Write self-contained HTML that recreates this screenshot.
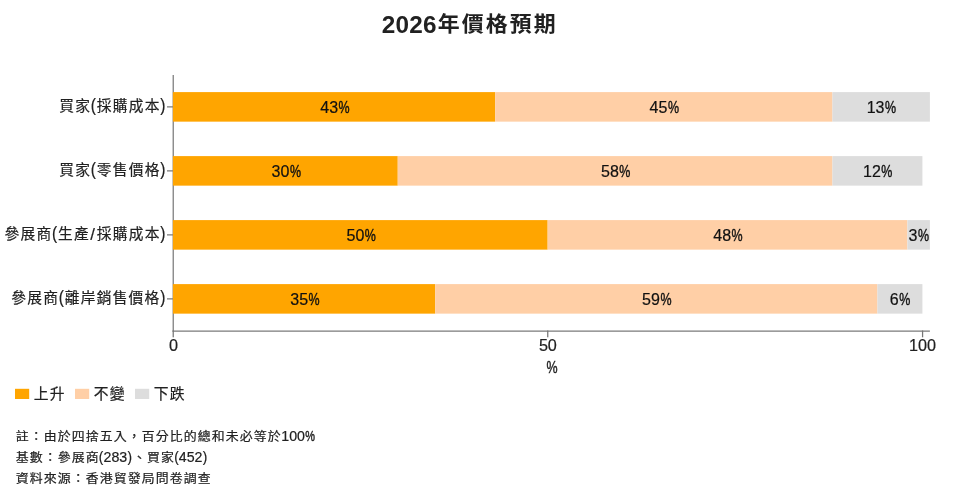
<!DOCTYPE html>
<html lang="zh-Hant">
<head>
<meta charset="utf-8">
<title>2026年價格預期</title>
<style>
html,body{margin:0;padding:0;background:#fff;}
body{width:966px;height:493px;overflow:hidden;}
svg{display:block;}
text{font-family:"Liberation Sans", "Noto Sans CJK TC", sans-serif;fill:#212121;stroke:#212121;stroke-width:0.2px;stroke-linejoin:round;}
.t{font-weight:bold;}
.bl{fill:#111;stroke:#111;}
.t{stroke-width:0;}
</style>
</head>
<body>
<svg width="966" height="493" viewBox="0 0 966 493">
<rect x="0" y="0" width="966" height="493" fill="#ffffff"/>
<text class="t"><tspan x="381.70" y="32.70" style="font-size:24.30px;letter-spacing:0.26px">2026</tspan><tspan x="437.68" y="30.85" style="font-size:20.90px;letter-spacing:1.96px" textLength="120.00" lengthAdjust="spacingAndGlyphs">年價格預期</tspan></text>
<rect x="172.6" y="75" width="1.25" height="256.7" fill="#7b7b7b"/>
<rect x="172.6" y="330.5" width="757.3" height="1.25" fill="#7b7b7b"/>
<rect x="172.60" y="330.5" width="1.25" height="6.8" fill="#777"/>
<text class="xl"><tspan x="169.00" y="350.80" style="font-size:16.20px;letter-spacing:-0.02px">0</tspan></text>
<rect x="547.12" y="330.5" width="1.25" height="6.8" fill="#777"/>
<text class="xl"><tspan x="538.90" y="350.80" style="font-size:16.20px;letter-spacing:-0.02px">50</tspan></text>
<rect x="921.95" y="330.5" width="1.25" height="6.8" fill="#777"/>
<text class="xl"><tspan x="909.10" y="350.80" style="font-size:16.20px;letter-spacing:-0.02px">100</tspan></text>
<text class="xl"><tspan x="546.52" y="372.97" style="font-size:16.73px;stroke-width:0.45px" textLength="11.09" lengthAdjust="spacingAndGlyphs">%</tspan></text>
<rect x="167" y="106.25" width="6" height="1.25" fill="#7b7b7b"/>
<rect x="172.90" y="92.1" width="322.29" height="29.55" fill="#ffa500"/>
<rect x="495.19" y="92.1" width="337.28" height="29.55" fill="#ffcfa6"/>
<rect x="832.46" y="92.1" width="97.44" height="29.55" fill="#dddddd"/>
<text class="bl"><tspan x="320.23" y="112.55" style="font-size:16.00px;letter-spacing:0.09px">43</tspan><tspan x="338.54" y="112.62" style="font-size:16.73px;stroke-width:0.45px" textLength="11.09" lengthAdjust="spacingAndGlyphs">%</tspan></text>
<text class="bl"><tspan x="649.57" y="112.55" style="font-size:16.00px;letter-spacing:0.09px">45</tspan><tspan x="667.89" y="112.62" style="font-size:16.73px;stroke-width:0.45px" textLength="11.09" lengthAdjust="spacingAndGlyphs">%</tspan></text>
<text class="bl"><tspan x="866.64" y="112.55" style="font-size:16.00px;letter-spacing:0.09px">13</tspan><tspan x="884.96" y="112.62" style="font-size:16.73px;stroke-width:0.45px" textLength="11.09" lengthAdjust="spacingAndGlyphs">%</tspan></text>
<text class="yl"><tspan x="59.20" y="111.30" style="font-size:14.70px;letter-spacing:1.30px">買家</tspan><tspan x="90.63" y="111.40" style="font-size:17.72px" textLength="5.18" lengthAdjust="spacingAndGlyphs">(</tspan><tspan x="96.68" y="111.30" style="font-size:14.70px;letter-spacing:1.30px">採購成本</tspan><tspan x="160.24" y="111.40" style="font-size:17.72px" textLength="5.18" lengthAdjust="spacingAndGlyphs">)</tspan></text>
<rect x="167" y="170.25" width="6" height="1.25" fill="#7b7b7b"/>
<rect x="172.90" y="156.1" width="224.85" height="29.55" fill="#ffa500"/>
<rect x="397.75" y="156.1" width="434.71" height="29.55" fill="#ffcfa6"/>
<rect x="832.46" y="156.1" width="89.94" height="29.55" fill="#dddddd"/>
<text class="bl"><tspan x="271.57" y="176.55" style="font-size:16.00px;letter-spacing:0.09px">30</tspan><tspan x="289.89" y="176.62" style="font-size:16.73px;stroke-width:0.45px" textLength="11.09" lengthAdjust="spacingAndGlyphs">%</tspan></text>
<text class="bl"><tspan x="600.92" y="176.55" style="font-size:16.00px;letter-spacing:0.09px">58</tspan><tspan x="619.23" y="176.62" style="font-size:16.73px;stroke-width:0.45px" textLength="11.09" lengthAdjust="spacingAndGlyphs">%</tspan></text>
<text class="bl"><tspan x="862.90" y="176.55" style="font-size:16.00px;letter-spacing:0.09px">12</tspan><tspan x="881.21" y="176.62" style="font-size:16.73px;stroke-width:0.45px" textLength="11.09" lengthAdjust="spacingAndGlyphs">%</tspan></text>
<text class="yl"><tspan x="59.20" y="175.30" style="font-size:14.70px;letter-spacing:1.30px">買家</tspan><tspan x="90.63" y="175.40" style="font-size:17.72px" textLength="5.18" lengthAdjust="spacingAndGlyphs">(</tspan><tspan x="96.68" y="175.30" style="font-size:14.70px;letter-spacing:1.30px">零售價格</tspan><tspan x="160.24" y="175.40" style="font-size:17.72px" textLength="5.18" lengthAdjust="spacingAndGlyphs">)</tspan></text>
<rect x="167" y="234.25" width="6" height="1.25" fill="#7b7b7b"/>
<rect x="172.90" y="220.1" width="374.75" height="29.55" fill="#ffa500"/>
<rect x="547.65" y="220.1" width="359.76" height="29.55" fill="#ffcfa6"/>
<rect x="907.41" y="220.1" width="22.49" height="29.55" fill="#dddddd"/>
<text class="bl"><tspan x="346.42" y="240.55" style="font-size:16.00px;letter-spacing:0.09px">50</tspan><tspan x="364.74" y="240.62" style="font-size:16.73px;stroke-width:0.45px" textLength="11.09" lengthAdjust="spacingAndGlyphs">%</tspan></text>
<text class="bl"><tspan x="713.20" y="240.55" style="font-size:16.00px;letter-spacing:0.09px">48</tspan><tspan x="731.51" y="240.62" style="font-size:16.73px;stroke-width:0.45px" textLength="11.09" lengthAdjust="spacingAndGlyphs">%</tspan></text>
<text class="bl"><tspan x="908.56" y="240.55" style="font-size:16.00px;letter-spacing:0.09px">3</tspan><tspan x="917.89" y="240.62" style="font-size:16.73px;stroke-width:0.45px" textLength="11.09" lengthAdjust="spacingAndGlyphs">%</tspan></text>
<text class="yl"><tspan x="4.60" y="239.30" style="font-size:14.70px;letter-spacing:1.30px">參展商</tspan><tspan x="52.03" y="239.40" style="font-size:17.72px" textLength="5.18" lengthAdjust="spacingAndGlyphs">(</tspan><tspan x="58.08" y="239.30" style="font-size:14.70px;letter-spacing:1.30px">生產</tspan><tspan x="90.23" y="240.21" style="font-size:16.82px">/</tspan><tspan x="96.68" y="239.30" style="font-size:14.70px;letter-spacing:1.30px">採購成本</tspan><tspan x="160.24" y="239.40" style="font-size:17.72px" textLength="5.18" lengthAdjust="spacingAndGlyphs">)</tspan></text>
<rect x="167" y="298.25" width="6" height="1.25" fill="#7b7b7b"/>
<rect x="172.90" y="284.1" width="262.33" height="29.55" fill="#ffa500"/>
<rect x="435.23" y="284.1" width="442.21" height="29.55" fill="#ffcfa6"/>
<rect x="877.43" y="284.1" width="44.97" height="29.55" fill="#dddddd"/>
<text class="bl"><tspan x="290.29" y="304.55" style="font-size:16.00px;letter-spacing:0.09px">35</tspan><tspan x="308.60" y="304.62" style="font-size:16.73px;stroke-width:0.45px" textLength="11.09" lengthAdjust="spacingAndGlyphs">%</tspan></text>
<text class="bl"><tspan x="642.09" y="304.55" style="font-size:16.00px;letter-spacing:0.09px">59</tspan><tspan x="660.40" y="304.62" style="font-size:16.73px;stroke-width:0.45px" textLength="11.09" lengthAdjust="spacingAndGlyphs">%</tspan></text>
<text class="bl"><tspan x="889.85" y="304.55" style="font-size:16.00px;letter-spacing:0.09px">6</tspan><tspan x="899.17" y="304.62" style="font-size:16.73px;stroke-width:0.45px" textLength="11.09" lengthAdjust="spacingAndGlyphs">%</tspan></text>
<text class="yl"><tspan x="11.20" y="303.30" style="font-size:14.70px;letter-spacing:1.30px">參展商</tspan><tspan x="58.63" y="303.40" style="font-size:17.72px" textLength="5.18" lengthAdjust="spacingAndGlyphs">(</tspan><tspan x="64.68" y="303.30" style="font-size:14.70px;letter-spacing:1.30px">離岸銷售價格</tspan><tspan x="160.24" y="303.40" style="font-size:17.72px" textLength="5.18" lengthAdjust="spacingAndGlyphs">)</tspan></text>
<rect x="15" y="388.8" width="14.2" height="10.2" fill="#ffa500"/>
<text class="lg"><tspan x="33.70" y="398.60" style="font-size:14.80px;letter-spacing:1.20px">上升</tspan></text>
<rect x="75" y="388.8" width="14.2" height="10.2" fill="#ffcfa6"/>
<text class="lg"><tspan x="93.70" y="398.60" style="font-size:14.80px;letter-spacing:1.20px">不變</tspan></text>
<rect x="135" y="388.8" width="14.2" height="10.2" fill="#dddddd"/>
<text class="lg"><tspan x="153.70" y="398.60" style="font-size:14.80px;letter-spacing:1.20px">下跌</tspan></text>
<text class="fn"><tspan x="15.65" y="440.80" style="font-size:12.10px;letter-spacing:1.03px" textLength="266.00" lengthAdjust="spacingAndGlyphs">註：由於四捨五入，百分比的總和未必等於</tspan><tspan x="281.29" y="441.20" style="font-size:14.20px;letter-spacing:-0.03px">100</tspan><tspan x="305.23" y="441.26" style="font-size:14.64px;stroke-width:0.45px" textLength="9.71" lengthAdjust="spacingAndGlyphs">%</tspan></text>
<text class="fn"><tspan x="15.65" y="461.95" style="font-size:12.10px;letter-spacing:1.03px" textLength="84.00" lengthAdjust="spacingAndGlyphs">基數：參展商</tspan><tspan x="98.87" y="462.35" style="font-size:15.50px" textLength="4.53" lengthAdjust="spacingAndGlyphs">(</tspan><tspan x="103.58" y="462.35" style="font-size:14.20px;letter-spacing:-0.03px">283</tspan><tspan x="127.38" y="462.35" style="font-size:15.50px" textLength="4.54" lengthAdjust="spacingAndGlyphs">)</tspan><tspan x="132.92" y="461.95" style="font-size:12.10px;letter-spacing:1.03px" textLength="42.00" lengthAdjust="spacingAndGlyphs">、買家</tspan><tspan x="174.14" y="462.35" style="font-size:15.50px" textLength="4.53" lengthAdjust="spacingAndGlyphs">(</tspan><tspan x="178.85" y="462.35" style="font-size:14.20px;letter-spacing:-0.03px">452</tspan><tspan x="202.65" y="462.35" style="font-size:15.50px" textLength="4.54" lengthAdjust="spacingAndGlyphs">)</tspan></text>
<text class="fn"><tspan x="15.65" y="483.10" style="font-size:12.10px;letter-spacing:1.03px" textLength="196.00" lengthAdjust="spacingAndGlyphs">資料來源：香港貿發局問卷調查</tspan></text>
</svg>
</body>
</html>
